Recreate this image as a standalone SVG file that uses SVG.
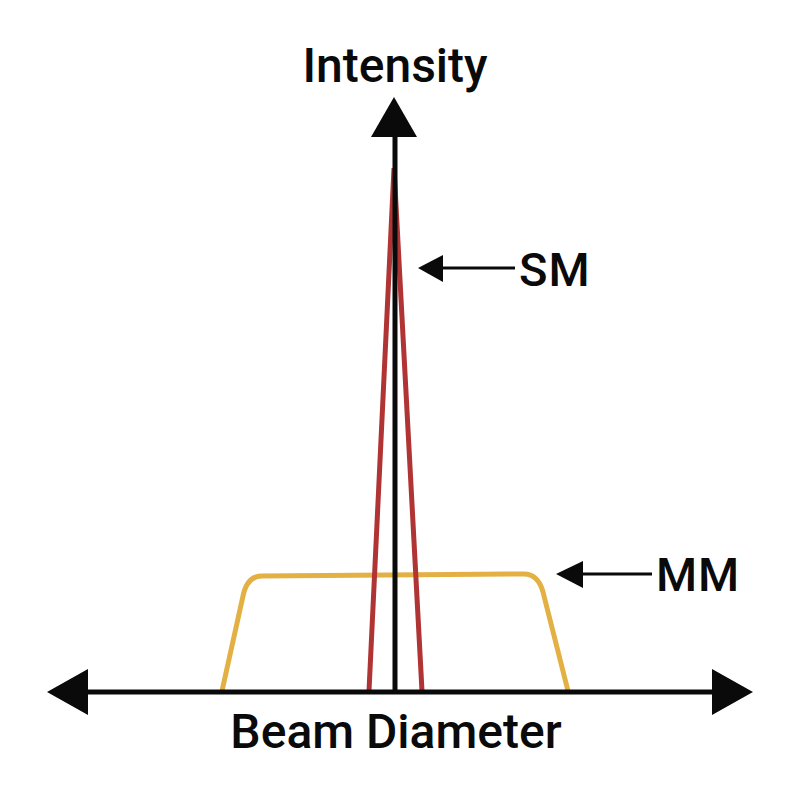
<svg xmlns="http://www.w3.org/2000/svg" width="800" height="800" viewBox="0 0 800 800">
<style>
.lbl{font-family:Roboto,"Liberation Sans",sans-serif;font-weight:500;fill:#0a0a0a}
.ax{stroke:#0a0a0a;stroke-width:5;fill:none}
.head{fill:#0a0a0a}
.thin{stroke:#0a0a0a;stroke-width:3;fill:none}
</style>
<rect width="800" height="800" fill="#ffffff"/>
<g id="mm-curve">
<path d="M222,691 L243,596 Q247,576 262,576 L524,574 Q538,574 543,592 L568,691" fill="none" stroke="#e3b043" stroke-width="5" stroke-linejoin="round"/>
</g>
<g id="sm-curve">
<path d="M369,691 L394,168 L422,691" fill="none" stroke="#b03434" stroke-width="5" stroke-linejoin="miter"/>
</g>
<g id="connectors">
<line class="ax" x1="395" y1="692" x2="395" y2="135"/>
<polygon class="head" points="394,97 371,137 417,137"/>
<line class="ax" x1="85" y1="692" x2="714" y2="692"/>
<polygon class="head" points="47,692 88,669 88,715"/>
<polygon class="head" points="753,692 712,669 712,715"/>
<line class="thin" x1="440" y1="268" x2="515" y2="268"/>
<polygon class="head" points="418,268 443,255 443,282"/>
<line class="thin" x1="580" y1="574" x2="652" y2="574"/>
<polygon class="head" points="556,574 583,561 583,588"/>
</g>
<g id="intensity-label"><text class="lbl" x="395" y="82" font-size="48" text-anchor="middle">Intensity</text></g>
<g id="beam-label"><text class="lbl" x="396" y="748" font-size="48" text-anchor="middle">Beam Diameter</text></g>
<g id="sm-label"><text class="lbl" x="519" y="286" font-size="47" letter-spacing="1">SM</text></g>
<g id="mm-label"><text class="lbl" x="656" y="591" font-size="47" letter-spacing="1">MM</text></g>
</svg>
